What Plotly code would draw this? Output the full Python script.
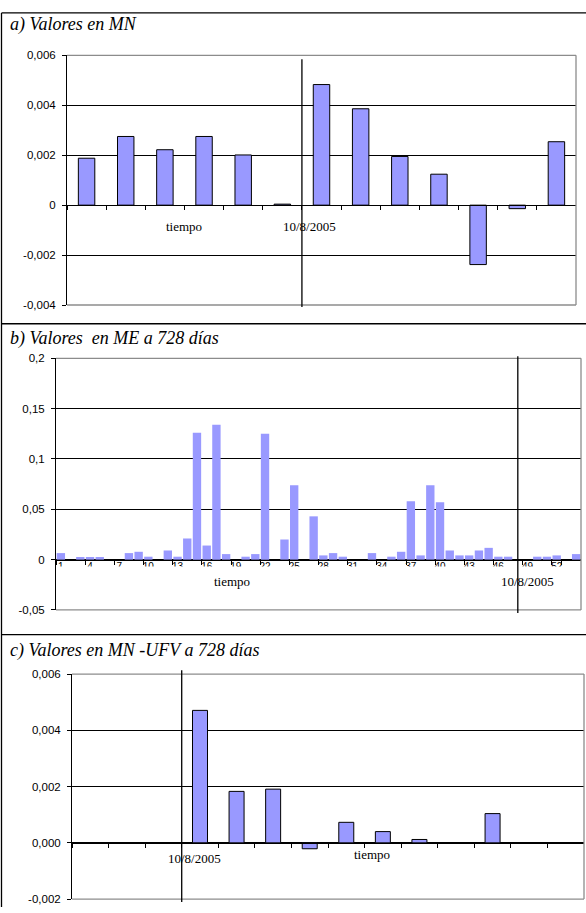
import plotly.graph_objects as go

W, H = 586, 913

# ---------------- data ----------------
# a) Valores en MN
a_cats = [str(i) for i in range(1, 14)]
a_vals = [0.00188, 0.00275, 0.00222, 0.00275, 0.00201, 0.00004, 0.00483,
          0.00386, 0.00195, 0.00124, -0.00238, -0.00014, 0.00254]
a_tickvals = [-0.004, -0.002, 0, 0.002, 0.004, 0.006]
a_ticktext = ["-0,004", "-0,002", "0", "0,002", "0,004", "0,006"]
a_event = 5.5  # 10/8/2005 between 6th and 7th category

# b) Valores en ME a 728 días
b_cats = [str(i) for i in range(1, 55)]
b_vals = [0.0065, 0, 0.0026, 0.0026, 0.0026, 0, 0, 0.0065, 0.0078, 0.0029,
          0, 0.0091, 0.0029, 0.021, 0.126, 0.014, 0.134, 0.0055, 0, 0.0029,
          0.0055, 0.125, 0, 0.020, 0.074, 0, 0.043, 0.0042, 0.0065, 0.0029,
          0, 0, 0.0065, 0, 0.0029, 0.0078, 0.058, 0.0042, 0.074, 0.057,
          0.0091, 0.0042, 0.0042, 0.0091, 0.0117, 0.0029, 0.0029, 0, 0, 0.0029,
          0.0029, 0.0042, 0, 0.0055]
b_tickvals = [-0.05, 0, 0.05, 0.1, 0.15, 0.2]
b_ticktext = ["-0,05", "0", "0,05", "0,1", "0,15", "0,2"]
b_xticks = b_cats[::3]
b_event = b_cats.index("48")  # line through category 48

# c) Valores en MN -UFV a 728 días
c_cats = [str(i) for i in range(1, 15)]
c_vals = [None, None, None, 0.00471, 0.00183, 0.00191, -0.00021, 0.00073,
          0.0004, 0.00012, None, 0.00104, None, None]
c_tickvals = [-0.002, 0, 0.002, 0.004, 0.006]
c_ticktext = ["-0,002", "0,000", "0,002", "0,004", "0,006"]
c_event = 2.5

titles = ["a) Valores en MN", "b) Valores  en ME a 728 días",
          "c) Valores en MN -UFV a 728 días"]

# ---------------- layout geometry (pixels) ----------------
def px(x):
    return x / W

def py(y):
    return 1 - y / H

panels = [
    dict(cats=a_cats, vals=a_vals, tv=a_tickvals, tt=a_ticktext, rng=[-0.004, 0.006],
         xd=[px(67), px(576)], yd=[py(303), py(50)], width=0.42, outline=1,
         event=a_event, ev=[py(305), py(54)], title_y=19,
         lab_tiempo=(184, 223), lab_date=(309, 223)),
    dict(cats=b_cats, vals=b_vals, tv=b_tickvals, tt=b_ticktext, rng=[-0.05, 0.2],
         xd=[px(56), px(581)], yd=[py(612), py(357)], width=0.86, outline=0,
         event=b_event, ev=[py(615), py(355)], title_y=337,
         lab_tiempo=(232, 583), lab_date=(527, 583)),
    dict(cats=c_cats, vals=c_vals, tv=c_tickvals, tt=c_ticktext, rng=[-0.002, 0.006],
         xd=[px(72), px(584)], yd=[py(905), py(677)], width=0.41, outline=1,
         event=c_event, ev=[py(908), py(673)], title_y=653,
         lab_tiempo=(372, 860), lab_date=(194, 864)),
]

fig = go.Figure()
shapes = []
annotations = []
layout = dict(width=W, height=H, margin=dict(l=0, r=0, t=0, b=0),
              paper_bgcolor="white", plot_bgcolor="white", showlegend=False,
              separators=",.", barmode="overlay")

BAR = "#9999FF"
SANS = "Liberation Sans"
SERIF = "Liberation Serif"
axis_font = dict(family=SANS, size=11.5, color="black")

for i, p in enumerate(panels):
    n = i + 1
    xa = "x" if n == 1 else f"x{n}"
    ya = "y" if n == 1 else f"y{n}"
    fig.add_trace(go.Bar(
        x=p["cats"], y=p["vals"], xaxis=xa, yaxis=ya, width=p["width"],
        marker=dict(color=BAR, line=dict(color="black" if p["outline"] else BAR,
                                         width=p["outline"])),
        hoverinfo="skip"))
    r0, r1 = p["rng"]
    zero_pos = p["yd"][0] + (0 - r0) / (r1 - r0) * (p["yd"][1] - p["yd"][0])
    xkey = "xaxis" if n == 1 else f"xaxis{n}"
    ykey = "yaxis" if n == 1 else f"yaxis{n}"
    xdict = dict(domain=p["xd"], type="category", categoryorder="array",
                 categoryarray=p["cats"], range=[-0.5, len(p["cats"]) - 0.5],
                 anchor="free", position=zero_pos, showline=True, linecolor="black",
                 linewidth=1, ticks="outside", ticklen=4, tickcolor="black",
                 tickson="boundaries", showgrid=False, zeroline=False,
                 showticklabels=False, fixedrange=True)
    if n == 2:
        xdict.update(showticklabels=True, tickvals=b_xticks, ticktext=b_xticks,
                     tickfont=dict(family=SANS, size=10, color="black"),
                     tickangle=0, ticklabelstandoff=-3)
    layout[xkey] = xdict
    layout[ykey] = dict(domain=p["yd"], range=p["rng"], tickvals=p["tv"], ticktext=p["tt"],
                        showline=True, linecolor="black", linewidth=1, ticks="outside",
                        ticklen=4, tickcolor="black", tickfont=axis_font,
                        ticklabelstandoff=4,
                        showgrid=True, gridcolor="black", gridwidth=1, zeroline=False,
                        anchor=xa, fixedrange=True)

    xdref = f"{xa} domain"
    ydref = f"{ya} domain"
    if n == 2:
        # mask the lower half of the category labels (clipped in original)
        shapes.append(dict(type="rect", xref="paper", yref="paper",
                           x0=px(57), x1=px(580), y0=py(577), y1=py(568),
                           fillcolor="white", line=dict(width=0), layer="above"))
    # grey plot border (top, right, bottom)
    for (x0, y0, x1, y1) in [(0, 1, 1, 1), (1, 0, 1, 1), (0, 0, 1, 0)]:
        shapes.append(dict(type="line", xref=xdref, yref=ydref, x0=x0, x1=x1,
                           y0=y0, y1=y1, line=dict(color="#8c8c8c", width=1.3),
                           layer="above"))
    # event line
    shapes.append(dict(type="line", xref=xa, yref="paper", x0=p["event"], x1=p["event"],
                       y0=p["ev"][0], y1=p["ev"][1], line=dict(color="black", width=1.3),
                       layer="above"))
    annotations.append(dict(text=titles[i], xref="paper", yref="paper", x=px(8),
                            y=py(p["title_y"]), xanchor="left", yanchor="middle",
                            showarrow=False,
                            font=dict(family=SERIF, size=18, color="black", style="italic")))
    annotations.append(dict(text="tiempo", xref="paper", yref="paper",
                            x=px(p["lab_tiempo"][0]), y=py(p["lab_tiempo"][1]),
                            xanchor="center", yanchor="middle", showarrow=False,
                            font=dict(family=SERIF, size=13, color="black")))
    annotations.append(dict(text="10/8/2005", xref="paper", yref="paper",
                            x=px(p["lab_date"][0]), y=py(p["lab_date"][1]),
                            xanchor="center", yanchor="middle", showarrow=False,
                            font=dict(family=SERIF, size=13, color="black")))

# outer frame and panel dividers
frame_left = 1.5
for yy in [7, 322, 637]:
    shapes.append(dict(type="line", xref="paper", yref="paper", x0=px(frame_left), x1=1,
                       y0=py(yy), y1=py(yy), line=dict(color="black", width=1.3)))
shapes.append(dict(type="line", xref="paper", yref="paper", x0=px(frame_left),
                   x1=px(frame_left), y0=py(7), y1=0, line=dict(color="black", width=1.3)))

layout["shapes"] = shapes
layout["annotations"] = annotations
fig.update_layout(**layout)
fig.write_html("out.html", config={"displayModeBar": False},
               post_script="document.body.style.margin='0';document.body.style.overflow='hidden';")
